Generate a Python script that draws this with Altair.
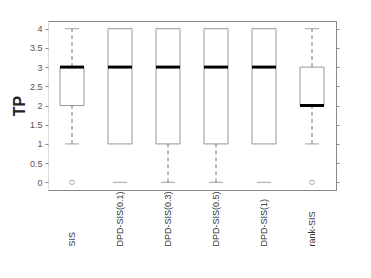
import altair as alt
import pandas as pd

categories = ["SIS", "DPD-SIS(0.1)", "DPD-SIS(0.3)", "DPD-SIS(0.5)", "DPD-SIS(1)", "rank-SIS"]
q1 = [2, 1, 1, 1, 1, 2]
median = [3, 3, 3, 3, 3, 2]
q3 = [3, 4, 4, 4, 4, 3]
lower_whisker = [1, None, 0, 0, None, 1]   # dashed line from whisker end to q1
lower_cap = [1, 0, 0, 0, 0, 1]
upper_whisker = [4, None, None, None, None, 4]
upper_cap = [4, None, None, None, None, 4]
outliers_cat = ["SIS", "rank-SIS"]
outliers_val = [0, 0]
ytick_values = [0, 0.5, 1, 1.5, 2, 2.5, 3, 3.5, 4]

df = pd.DataFrame({
    "cat": categories, "q1": q1, "median": median, "q3": q3,
    "lw": lower_whisker, "lc": lower_cap, "uw": upper_whisker, "uc": upper_cap,
})
out_df = pd.DataFrame({"cat": outliers_cat, "v": outliers_val})

xscale = alt.Scale(domain=categories, paddingInner=0, paddingOuter=0)
yscale = alt.Scale(domain=[-0.2, 4.2], nice=False, zero=False)

x_axis = alt.Axis(orient="bottom", domain=True, domainColor="#888",
                  ticks=False, labelAngle=270, labelAlign="left",
                  labelBaseline="middle", labelPadding=56,
                  labelFontSize=9, labelColor="#333", grid=False,
                  labelOverlap=False)
y_axis = alt.Axis(orient="left", domain=False, ticks=True, tickSize=3, tickColor="#888",
                  labelColor="#555", labelFontSize=9, labelPadding=3, grid=False,
                  values=ytick_values, format="~g", labelOverlap=False, labelBound=False,
                  titleFontSize=16, titleFontWeight="bold", titleColor="#222",
                  titlePadding=2)


def X():
    return alt.X("cat:N", scale=xscale, sort=categories, title=None, axis=x_axis)


def Y(field):
    return alt.Y(field, scale=yscale, title="TP", axis=y_axis)


base = alt.Chart(df)

boxes = base.mark_bar(size=24, fill="white", stroke="#999", strokeWidth=1).encode(
    x=X(), y=Y("q1:Q"), y2="q3:Q")
lw = base.transform_filter("isValid(datum.lw)").mark_rule(
    color="#777", strokeDash=[4, 3], strokeWidth=1).encode(x=X(), y=Y("lw:Q"), y2="q1:Q")
uw = base.transform_filter("isValid(datum.uw)").mark_rule(
    color="#777", strokeDash=[4, 3], strokeWidth=1).encode(x=X(), y=Y("q3:Q"), y2="uw:Q")
lc = base.mark_tick(orient="horizontal", size=14, thickness=1, color="#777").encode(
    x=X(), y=Y("lc:Q"))
uc = base.transform_filter("isValid(datum.uc)").mark_tick(
    orient="horizontal", size=14, thickness=1, color="#777").encode(x=X(), y=Y("uc:Q"))
med = base.mark_tick(orient="horizontal", size=24, thickness=3, color="black", opacity=1).encode(
    x=X(), y=Y("median:Q"))
outl = alt.Chart(out_df).mark_point(shape="circle", size=20, filled=False,
                                    color="#888", strokeWidth=1).encode(
    x=X(), y=Y("v:Q"))

main = alt.layer(boxes, lw, uw, lc, uc, med, outl)

frame = base.mark_point(opacity=0).encode(
    x=alt.X("cat:N", scale=xscale, sort=categories, title=None,
            axis=alt.Axis(orient="top", domain=True, domainColor="#888", ticks=False,
                          labels=False, grid=False)),
    y=alt.Y("median:Q", scale=yscale, title=None,
            axis=alt.Axis(orient="right", domain=True, domainColor="#888", ticks=True,
                          tickSize=3, tickColor="#888", labels=False, grid=False,
                          values=ytick_values)),
)

chart = alt.layer(main, frame).resolve_scale(x="independent", y="independent").properties(
    width=288, height=169,
    autosize=alt.AutoSizeParams(type="none"),
    padding={"left": 40, "top": 13, "right": 27, "bottom": 80},
).configure_view(stroke=None).configure(font="Liberation Sans")

chart.save("out.html", embed_options={"renderer": "svg", "actions": False})
